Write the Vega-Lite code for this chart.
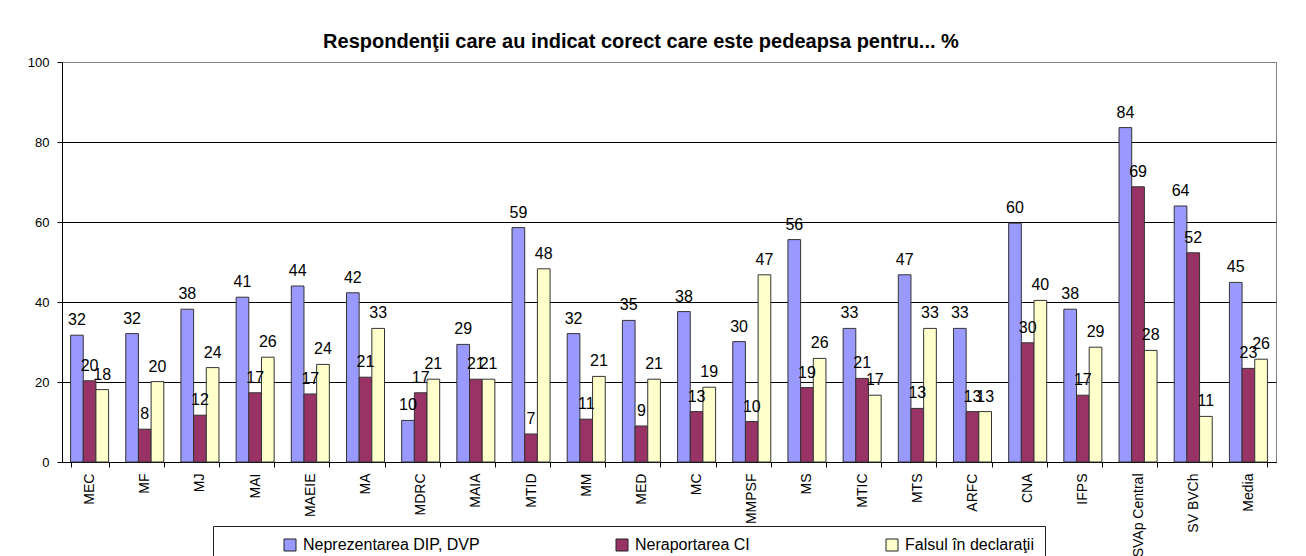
{
  "$schema": "https://vega.github.io/schema/vega-lite/v6.json",
  "width": 1214,
  "height": 400,
  "autosize": {"type": "none"},
  "padding": {"left": 62, "top": 62, "right": 30, "bottom": 94},
  "background": "white",
  "title": {
    "text": "Respondenţii care au indicat corect care este pedeapsa pentru... %",
    "anchor": "middle",
    "frame": "group",
    "dx": -28,
    "dy": 25,
    "offset": 13,
    "baseline": "alphabetic",
    "font": "Liberation Sans",
    "fontSize": 20,
    "fontWeight": "bold",
    "color": "black"
  },
  "config": {
    "view": {"stroke": "#808080", "strokeWidth": 1},
    "axis": {
      "domainColor": "black",
      "tickColor": "black",
      "labelColor": "black",
      "labelFont": "Liberation Sans",
      "gridColor": "black"
    }
  },
  "data": {
    "values": [
      {"cat": "MEC", "series": "Neprezentarea DIP, DVP", "value": 31.7},
      {"cat": "MEC", "series": "Neraportarea CI", "value": 20.3},
      {"cat": "MEC", "series": "Falsul în declaraţii", "value": 18.1},
      {"cat": "MF", "series": "Neprezentarea DIP, DVP", "value": 32.1},
      {"cat": "MF", "series": "Neraportarea CI", "value": 8.2},
      {"cat": "MF", "series": "Falsul în declaraţii", "value": 20.1},
      {"cat": "MJ", "series": "Neprezentarea DIP, DVP", "value": 38.2},
      {"cat": "MJ", "series": "Neraportarea CI", "value": 11.7},
      {"cat": "MJ", "series": "Falsul în declaraţii", "value": 23.6},
      {"cat": "MAI", "series": "Neprezentarea DIP, DVP", "value": 41.2},
      {"cat": "MAI", "series": "Neraportarea CI", "value": 17.3},
      {"cat": "MAI", "series": "Falsul în declaraţii", "value": 26.2},
      {"cat": "MAEIE", "series": "Neprezentarea DIP, DVP", "value": 44.0},
      {"cat": "MAEIE", "series": "Neraportarea CI", "value": 17.0},
      {"cat": "MAEIE", "series": "Falsul în declaraţii", "value": 24.4},
      {"cat": "MA", "series": "Neprezentarea DIP, DVP", "value": 42.3},
      {"cat": "MA", "series": "Neraportarea CI", "value": 21.2},
      {"cat": "MA", "series": "Falsul în declaraţii", "value": 33.4},
      {"cat": "MDRC", "series": "Neprezentarea DIP, DVP", "value": 10.4},
      {"cat": "MDRC", "series": "Neraportarea CI", "value": 17.3},
      {"cat": "MDRC", "series": "Falsul în declaraţii", "value": 20.7},
      {"cat": "MAIA", "series": "Neprezentarea DIP, DVP", "value": 29.4},
      {"cat": "MAIA", "series": "Neraportarea CI", "value": 20.7},
      {"cat": "MAIA", "series": "Falsul în declaraţii", "value": 20.7},
      {"cat": "MTID", "series": "Neprezentarea DIP, DVP", "value": 58.6},
      {"cat": "MTID", "series": "Neraportarea CI", "value": 7.0},
      {"cat": "MTID", "series": "Falsul în declaraţii", "value": 48.3},
      {"cat": "MM", "series": "Neprezentarea DIP, DVP", "value": 32.1},
      {"cat": "MM", "series": "Neraportarea CI", "value": 10.7},
      {"cat": "MM", "series": "Falsul în declaraţii", "value": 21.4},
      {"cat": "MED", "series": "Neprezentarea DIP, DVP", "value": 35.4},
      {"cat": "MED", "series": "Neraportarea CI", "value": 9.0},
      {"cat": "MED", "series": "Falsul în declaraţii", "value": 20.7},
      {"cat": "MC", "series": "Neprezentarea DIP, DVP", "value": 37.6},
      {"cat": "MC", "series": "Neraportarea CI", "value": 12.6},
      {"cat": "MC", "series": "Falsul în declaraţii", "value": 18.7},
      {"cat": "MMPSF", "series": "Neprezentarea DIP, DVP", "value": 30.1},
      {"cat": "MMPSF", "series": "Neraportarea CI", "value": 10.1},
      {"cat": "MMPSF", "series": "Falsul în declaraţii", "value": 46.8},
      {"cat": "MS", "series": "Neprezentarea DIP, DVP", "value": 55.6},
      {"cat": "MS", "series": "Neraportarea CI", "value": 18.6},
      {"cat": "MS", "series": "Falsul în declaraţii", "value": 25.9},
      {"cat": "MTIC", "series": "Neprezentarea DIP, DVP", "value": 33.4},
      {"cat": "MTIC", "series": "Neraportarea CI", "value": 20.9},
      {"cat": "MTIC", "series": "Falsul în declaraţii", "value": 16.7},
      {"cat": "MTS", "series": "Neprezentarea DIP, DVP", "value": 46.8},
      {"cat": "MTS", "series": "Neraportarea CI", "value": 13.4},
      {"cat": "MTS", "series": "Falsul în declaraţii", "value": 33.4},
      {"cat": "ARFC", "series": "Neprezentarea DIP, DVP", "value": 33.4},
      {"cat": "ARFC", "series": "Neraportarea CI", "value": 12.6},
      {"cat": "ARFC", "series": "Falsul în declaraţii", "value": 12.6},
      {"cat": "CNA", "series": "Neprezentarea DIP, DVP", "value": 59.7},
      {"cat": "CNA", "series": "Neraportarea CI", "value": 29.8},
      {"cat": "CNA", "series": "Falsul în declaraţii", "value": 40.4},
      {"cat": "IFPS", "series": "Neprezentarea DIP, DVP", "value": 38.2},
      {"cat": "IFPS", "series": "Neraportarea CI", "value": 16.7},
      {"cat": "IFPS", "series": "Falsul în declaraţii", "value": 28.7},
      {"cat": "SVAp Central", "series": "Neprezentarea DIP, DVP", "value": 83.6},
      {"cat": "SVAp Central", "series": "Neraportarea CI", "value": 68.8},
      {"cat": "SVAp Central", "series": "Falsul în declaraţii", "value": 27.9},
      {"cat": "SV BVCh", "series": "Neprezentarea DIP, DVP", "value": 64.0},
      {"cat": "SV BVCh", "series": "Neraportarea CI", "value": 52.3},
      {"cat": "SV BVCh", "series": "Falsul în declaraţii", "value": 11.4},
      {"cat": "Media", "series": "Neprezentarea DIP, DVP", "value": 44.9},
      {"cat": "Media", "series": "Neraportarea CI", "value": 23.4},
      {"cat": "Media", "series": "Falsul în declaraţii", "value": 25.7}
    ]
  },
  "encoding": {
    "x": {
      "field": "cat",
      "type": "nominal",
      "sort": null,
      "scale": {"paddingInner": 0.311, "paddingOuter": 0.1555},
      "axis": {
        "title": null,
        "labelAngle": -90,
        "labelFontSize": 14,
        "tickSize": 5,
        "labelPadding": 6,
        "tickBand": "extent",
        "grid": false
      }
    },
    "xOffset": {
      "field": "series",
      "type": "nominal",
      "sort": ["Neprezentarea DIP, DVP", "Neraportarea CI", "Falsul în declaraţii"],
      "scale": {"domain": ["Neprezentarea DIP, DVP", "Neraportarea CI", "Falsul în declaraţii"], "paddingInner": 0, "paddingOuter": 0}
    },
    "y": {
      "field": "value",
      "type": "quantitative",
      "scale": {"domain": [0, 100], "nice": false},
      "axis": {
        "title": null,
        "values": [0, 20, 40, 60, 80, 100],
        "labelFontSize": 13,
        "tickSize": 5,
        "labelPadding": 8,
        "grid": true,
        "gridColor": {"condition": {"test": "datum.value == 100", "value": "#808080"}, "value": "black"}
      }
    }
  },
  "layer": [
    {
      "mark": {"type": "bar", "stroke": "#333333", "strokeWidth": 1},
      "encoding": {
        "color": {
          "field": "series",
          "type": "nominal",
          "scale": {
            "domain": ["Neprezentarea DIP, DVP", "Neraportarea CI", "Falsul în declaraţii"],
            "range": ["#9999FF", "#993366", "#FFFFCC"]
          },
          "legend": {
            "orient": "none",
            "legendX": 151,
            "legendY": 464,
            "direction": "horizontal",
            "title": "\u00a0",
            "titleOrient": "left",
            "titleFontSize": 16,
            "titlePadding": 58,
            "padding": 11,
            "strokeColor": "#222222",
            "labelFont": "Liberation Sans",
            "labelFontSize": 16,
            "labelColor": "black",
            "labelLimit": 400,
            "labelOffset": 5,
            "columnPadding": 134,
            "symbolType": "square",
            "symbolSize": 144,
            "symbolStrokeColor": "#222222",
            "symbolStrokeWidth": 1,
            "symbolOpacity": 1
          }
        }
      }
    },
    {
      "mark": {
        "type": "text",
        "baseline": "alphabetic",
        "dy": -10,
        "font": "Liberation Sans",
        "fontSize": 16,
        "color": "black"
      },
      "encoding": {
        "text": {"field": "value", "type": "quantitative", "format": ".0f"}
      }
    }
  ]
}
